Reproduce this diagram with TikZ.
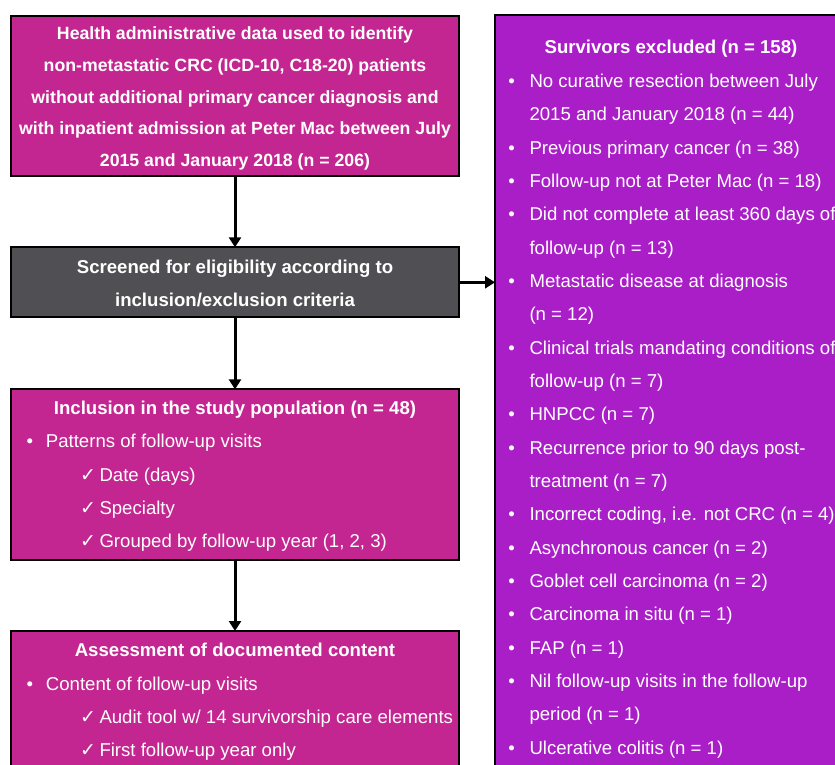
\documentclass[tikz,border=0pt]{standalone}
\usepackage{fontspec}
\setmainfont{Liberation Sans}
\newfontfamily\symfont{DejaVu Sans}
\usetikzlibrary{arrows.meta}
\definecolor{mag}{RGB}{196,38,145}
\definecolor{purp}{RGB}{170,30,200}
\definecolor{dgray}{RGB}{80,80,84}
\begin{document}
\begin{tikzpicture}[x=1pt,y=-1pt,
  box/.style={draw=black,line width=2pt,inner sep=0pt,outer sep=0pt},
  txt/.style={text=white,inner sep=0pt,font=\fontsize{18.6}{22}\selectfont},
  btxt/.style={text=white,inner sep=0pt,font=\fontsize{18.6}{22}\selectfont\bfseries},
  stxt/.style={text=white,inner sep=0pt,font=\fontsize{17.7}{22}\selectfont\bfseries},
  ck/.style={text=white,inner sep=0pt,font=\fontsize{19}{22}\symfont},
  arr/.style={line width=3pt,-{Triangle[length=10pt,width=12pt]}}]
\useasboundingbox (0,0) rectangle (835,765);
\fill[white] (0,0) rectangle (835,765);
% boxes
\node[box,fill=mag,minimum width=448pt,minimum height=160pt] (b1) at (235,95.7) {};
\node[box,fill=dgray,minimum width=448pt,minimum height=70pt] (b2) at (235,282.3) {};
\node[box,fill=mag,minimum width=448pt,minimum height=170.7pt] (b3) at (235,474.7) {};
\node[box,fill=mag,anchor=north,minimum width=448pt,minimum height=200pt] (b4) at (235,631) {};
\node[box,fill=purp,anchor=north west,minimum width=360pt,minimum height=800pt] (rb) at (495,15.3) {};
% arrows
\draw[arr] (b1.south) -- (b2.north);
\draw[arr] (b2.south) -- (b3.north);
\draw[arr] (b3.south) -- (b4.north);
\draw[arr] (b2.east) -- (b2.east -| rb.west);
% box 1
\node[stxt,anchor=base] (t11) at (235,40) {Health administrative data used to identify};
\node[stxt,anchor=base] (t12) at (235,71.6) {non-metastatic CRC (ICD-10, C18-20) patients};
\node[stxt,anchor=base] (t13) at (235,103.2) {without additional primary cancer diagnosis and};
\node[stxt,anchor=base] (t14) at (235,134.8) {with inpatient admission at Peter Mac between July};
\node[stxt,anchor=base] (t15) at (235,166.4) {2015 and January 2018 (n = 206)};
% box 2
\node[btxt,anchor=base] (t21) at (235,273.3) {Screened for eligibility according to};
\node[btxt,anchor=base] (t22) at (235,306) {inclusion/exclusion criteria};
% box 3
\node[btxt,anchor=base] (t31) at (235,414.3) {Inclusion in the study population (n = 48)};
\node[txt,anchor=base] (u31) at (30,447.7) {•};
\node[txt,anchor=base west] (t32) at (45.7,447.7) {Patterns of follow-up visits};
\node[ck,anchor=base west] (c31) at (80,481) {✓};
\node[txt,anchor=base west] (t33) at (99.3,481) {Date (days)};
\node[ck,anchor=base west] (c32) at (80,514.3) {✓};
\node[txt,anchor=base west] (t34) at (99.3,514.3) {Specialty};
\node[ck,anchor=base west] (c33) at (80,547.7) {✓};
\node[txt,anchor=base west] (t35) at (99.3,547.7) {Grouped by follow-up year (1, 2, 3)};
% box 4
\node[btxt,anchor=base] (t41) at (235,656) {Assessment of documented content};
\node[txt,anchor=base] (u41) at (30,690) {•};
\node[txt,anchor=base west] (t42) at (45.7,690) {Content of follow-up visits};
\node[ck,anchor=base west] (c41) at (80,723.3) {✓};
\node[txt,anchor=base west] (t43) at (99.3,723.3) {Audit tool w/ 14 survivorship care elements};
\node[ck,anchor=base west] (c42) at (80,756.7) {✓};
\node[txt,anchor=base west] (t44) at (99.3,756.7) {First follow-up year only};
% right box
\node[btxt,anchor=base] (r00) at (671,54) {Survivors excluded (n = 158)};
\node[txt,anchor=base] (v01) at (511.7,87.3) {•};
\node[txt,anchor=base west] (r01) at (529.3,87.3) {No curative resection between July};
\node[txt,anchor=base west] (r02) at (529.3,120.7) {2015 and January 2018 (n = 44)};
\node[txt,anchor=base] (v03) at (511.7,154) {•};
\node[txt,anchor=base west] (r03) at (529.3,154) {Previous primary cancer (n = 38)};
\node[txt,anchor=base] (v04) at (511.7,187.3) {•};
\node[txt,anchor=base west] (r04) at (529.3,187.3) {Follow-up not at Peter Mac (n = 18)};
\node[txt,anchor=base] (v05) at (511.7,220.7) {•};
\node[txt,anchor=base west] (r05) at (529.3,220.7) {Did not complete at least 360 days of};
\node[txt,anchor=base west] (r06) at (529.3,254) {follow-up (n = 13)};
\node[txt,anchor=base] (v07) at (511.7,287.3) {•};
\node[txt,anchor=base west] (r07) at (529.3,287.3) {Metastatic disease at diagnosis};
\node[txt,anchor=base west] (r08) at (529.3,320.7) {(n = 12)};
\node[txt,anchor=base] (v09) at (511.7,354) {•};
\node[txt,anchor=base west] (r09) at (529.3,354) {Clinical trials mandating conditions of};
\node[txt,anchor=base west] (r10) at (529.3,387.3) {follow-up (n = 7)};
\node[txt,anchor=base] (v11) at (511.7,420.7) {•};
\node[txt,anchor=base west] (r11) at (529.3,420.7) {HNPCC (n = 7)};
\node[txt,anchor=base] (v12) at (511.7,454) {•};
\node[txt,anchor=base west] (r12) at (529.3,454) {Recurrence prior to 90 days post-};
\node[txt,anchor=base west] (r13) at (529.3,487.3) {treatment (n = 7)};
\node[txt,anchor=base] (v14) at (511.7,520.7) {•};
\node[txt,anchor=base west] (r14) at (529.3,520.7) {Incorrect coding, i.e. not CRC (n = 4)};
\node[txt,anchor=base] (v15) at (511.7,554) {•};
\node[txt,anchor=base west] (r15) at (529.3,554) {Asynchronous cancer (n = 2)};
\node[txt,anchor=base] (v16) at (511.7,587.3) {•};
\node[txt,anchor=base west] (r16) at (529.3,587.3) {Goblet cell carcinoma (n = 2)};
\node[txt,anchor=base] (v17) at (511.7,620.7) {•};
\node[txt,anchor=base west] (r17) at (529.3,620.7) {Carcinoma in situ (n = 1)};
\node[txt,anchor=base] (v18) at (511.7,654) {•};
\node[txt,anchor=base west] (r18) at (529.3,654) {FAP (n = 1)};
\node[txt,anchor=base] (v19) at (511.7,687.3) {•};
\node[txt,anchor=base west] (r19) at (529.3,687.3) {Nil follow-up visits in the follow-up};
\node[txt,anchor=base west] (r20) at (529.3,720.7) {period (n = 1)};
\node[txt,anchor=base] (v21) at (511.7,754) {•};
\node[txt,anchor=base west] (r21) at (529.3,754) {Ulcerative colitis (n = 1)};
\end{tikzpicture}
\end{document}
